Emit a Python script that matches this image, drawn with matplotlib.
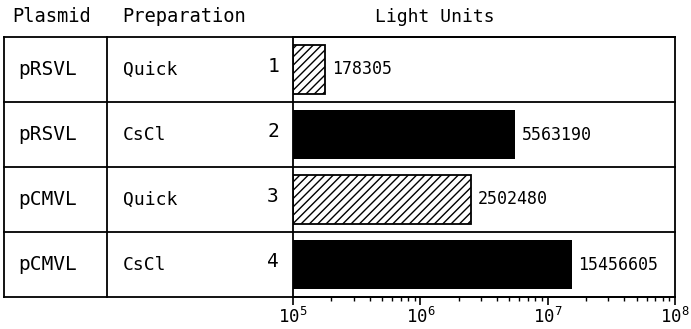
import matplotlib
matplotlib.use('Agg')
import matplotlib.pyplot as plt
import matplotlib.transforms as mtransforms
from matplotlib.lines import Line2D
from matplotlib.ticker import LogLocator, NullFormatter

# data
plasmids = ['pRSVL', 'pRSVL', 'pCMVL', 'pCMVL']
preps = ['Quick', 'CsCl', 'Quick', 'CsCl']
lanes = ['1', '2', '3', '4']
light_units = [178305, 5563190, 2502480, 15456605]
hatched = [True, False, True, False]
tick_vals = [1e5, 1e6, 1e7, 1e8]
tick_labels = [r'$\mathregular{10^{5}}$', r'$\mathregular{10^{6}}$',
               r'$\mathregular{10^{7}}$', r'$\mathregular{10^{8}}$']

plt.rcParams['font.family'] = 'DejaVu Sans Mono'
plt.rcParams['hatch.linewidth'] = 1.0

W, H = 691, 329
fig = plt.figure(figsize=(W / 100, H / 100), dpi=100)


def fx(x):
    return x / W


def fy(y):
    return 1 - y / H


# table geometry in pixels
x_left, x_div, x0, x1 = 4, 107, 293, 675
y_top, y_bot = 37, 297
lw = 1.3

ax = fig.add_axes([fx(x0), fy(y_bot), fx(x1) - fx(x0), fy(y_top) - fy(y_bot)])
ax.set_xscale('log')
ax.set_xlim(1e5, 1e8)
ax.set_ylim(3.5, -0.5)
ax.set_yticks([])

base = 1e5
for i, v in enumerate(light_units):
    if hatched[i]:
        ax.barh(i, v - base, left=base, height=0.74, facecolor='white',
                edgecolor='black', hatch='////', linewidth=1.3)
    else:
        ax.barh(i, v - base, left=base, height=0.74, color='black')
    ax.text(v * 1.13, i, str(v), va='center', ha='left', fontsize=12)

ax.set_xticks(tick_vals)
ax.set_xticklabels(tick_labels, fontsize=12.5)
ax.xaxis.set_minor_locator(LogLocator(base=10, subs=range(2, 10)))
ax.xaxis.set_minor_formatter(NullFormatter())
ax.tick_params(axis='x', which='major', direction='out', length=6, width=1.2, pad=1)
ax.tick_params(axis='x', which='minor', direction='out', length=3, width=1.0)
for s in ax.spines.values():
    s.set_linewidth(lw)

# table lines and row text
trans = mtransforms.blended_transform_factory(fig.transFigure, ax.transData)
for yb in [-0.5, 0.5, 1.5, 2.5, 3.5]:
    fig.add_artist(Line2D([fx(x_left), fx(x1)], [yb, yb], transform=trans,
                          color='black', linewidth=lw))
for xv in [x_left, x_div]:
    fig.add_artist(Line2D([fx(xv), fx(xv)], [fy(y_top), fy(y_bot)],
                          transform=fig.transFigure, color='black', linewidth=lw))

for i in range(len(plasmids)):
    fig.text(fx(18), i, plasmids[i], transform=trans, ha='left', va='center', fontsize=14)
    fig.text(fx(123), i, preps[i], transform=trans, ha='left', va='center', fontsize=13)
    fig.text(fx(279), i - 0.05, lanes[i], transform=trans, ha='right', va='center', fontsize=14)

# headers
fig.text(fx(12), fy(17), 'Plasmid', ha='left', va='center', fontsize=13.5)
fig.text(fx(122), fy(17), 'Preparation', ha='left', va='center', fontsize=13.5)
fig.text(fx(435), fy(17), 'Light Units', ha='center', va='center', fontsize=13)

fig.savefig('out.png', dpi=100)
